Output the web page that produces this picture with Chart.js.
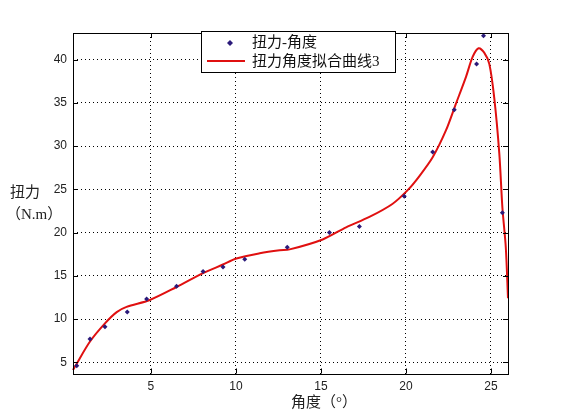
<!DOCTYPE html>
<html>
<head>
<meta charset="utf-8">
<script src="https://cdn.jsdelivr.net/npm/chart.js@4"></script>
<style>
  html, body { margin: 0; padding: 0; background: #fff; }
</style>
</head>
<body>
<canvas id="c" width="561" height="420"></canvas>
<script>
// measured points (angle in degrees, torque in N.m)
const angles  = [0.64, 1.42, 2.30, 3.61, 4.75, 6.51, 8.07, 9.24, 10.52, 13.02, 15.5, 17.26, 19.9, 21.57, 22.84, 24.15, 24.56, 25.67];
const torques = [4.6, 7.7, 9.1, 10.8, 12.3, 13.8, 15.5, 16.0, 16.9, 18.3, 20.0, 20.7, 24.2, 29.3, 34.2, 39.5, 42.75, 22.3];

// fitted curve
const fitX = [0.42, 0.54, 1.42, 2.3, 2.99, 3.57, 4.94, 6.51, 8.07, 9.24, 10.03, 11.4, 12.57, 13.16, 15.1, 16.48, 17.85, 19.2, 20.1, 20.78, 21.57, 22.35, 22.94, 23.53, 23.92, 24.27, 24.6, 24.9, 25.19, 25.49, 25.67, 25.87, 26.0];
const fitY = [4.1, 4.5, 7.4, 9.5, 10.8, 11.4, 12.2, 13.7, 15.3, 16.3, 17.0, 17.6, 17.95, 18.05, 19.2, 20.6, 21.8, 23.3, 24.9, 26.5, 28.7, 31.8, 34.9, 38.0, 40.3, 41.3, 40.8, 39.5, 35.6, 29.1, 22.9, 18.3, 12.4];

const xTicks = [5, 10, 15, 20, 25];
const yTicks = [5, 10, 15, 20, 25, 30, 35, 40];

const seriesNames = ["扭力-角度", "扭力角度拟合曲线3"];
const xTitle = "角度（°）";
const yTitle = ["扭力", "（N.m）"];

const pointColor = "#2b1a7a";
const lineColor = "#e01010";
const cjk = "'Liberation Serif', 'Noto Sans CJK SC', serif";

const frame = {
  id: "frame",
  afterDraw(chart) {
    const ctx = chart.ctx;
    const a = chart.chartArea;
    const xs = chart.scales.x, ys = chart.scales.y;
    ctx.save();
    ctx.strokeStyle = "#000";
    ctx.lineWidth = 1;
    ctx.strokeRect(Math.round(a.left) + 0.5, Math.round(a.top) + 0.5, Math.round(a.right - a.left), Math.round(a.bottom - a.top));
    // inward tick marks on all four sides
    ctx.beginPath();
    xTicks.forEach(v => {
      const px = Math.round(xs.getPixelForValue(v)) + 0.5;
      ctx.moveTo(px, a.bottom); ctx.lineTo(px, a.bottom - 5);
      ctx.moveTo(px, a.top); ctx.lineTo(px, a.top + 5);
    });
    yTicks.forEach(v => {
      const py = Math.round(ys.getPixelForValue(v)) + 0.5;
      ctx.moveTo(a.left, py); ctx.lineTo(a.left + 5, py);
      ctx.moveTo(a.right, py); ctx.lineTo(a.right - 5, py);
    });
    ctx.stroke();

    // axis titles
    ctx.fillStyle = "#222";
    ctx.font = "15px " + cjk;
    ctx.textBaseline = "middle";
    ctx.textAlign = "left";
    ctx.fillText(xTitle, 291, 403);
    ctx.fillText(yTitle[0], 10, 193);
    ctx.fillText(yTitle[1], 6, 215);

    // legend box
    const lx = 201, ly = 31, lw = 194, lh = 41;
    ctx.fillStyle = "#fff";
    ctx.fillRect(lx, ly, lw, lh);
    ctx.strokeStyle = "#000";
    ctx.strokeRect(lx + 0.5, ly + 0.5, lw, lh);
    ctx.fillStyle = pointColor;
    ctx.beginPath();
    ctx.moveTo(230, 40); ctx.lineTo(233, 43); ctx.lineTo(230, 46); ctx.lineTo(227, 43);
    ctx.closePath(); ctx.fill();
    ctx.strokeStyle = lineColor;
    ctx.lineWidth = 2;
    ctx.beginPath(); ctx.moveTo(207, 61); ctx.lineTo(245, 61); ctx.stroke();
    ctx.fillStyle = "#111";
    ctx.font = "15px " + cjk;
    ctx.fillText(seriesNames[0], 252, 43);
    ctx.fillText(seriesNames[1], 252, 62);
    ctx.restore();
  }
};

const gridStyle = { color: "#000", lineWidth: 1, drawTicks: false };
const tickFont = { family: "'Liberation Sans', Arial", size: 12 };

new Chart(document.getElementById("c"), {
  type: "scatter",
  data: {
    datasets: [
      {
        label: seriesNames[1],
        type: "line",
        data: fitX.map((x, i) => ({ x, y: fitY[i] })),
        borderColor: lineColor,
        borderWidth: 2,
        pointRadius: 0,
        tension: 0.3,
        fill: false,
        order: 2
      },
      {
        label: seriesNames[0],
        data: angles.map((x, i) => ({ x, y: torques[i] })),
        pointStyle: "rectRot",
        pointRadius: 2.5,
        backgroundColor: pointColor,
        borderColor: pointColor,
        borderWidth: 0,
        order: 1
      }
    ]
  },
  options: {
    responsive: false,
    animation: false,
    clip: false,
    layout: { padding: { left: 0, right: 53, top: 33, bottom: 0 } },
    plugins: { legend: { display: false }, tooltip: { enabled: false } },
    scales: {
      x: {
        type: "linear",
        min: 0.42,
        max: 26,
        afterBuildTicks: s => { s.ticks = xTicks.map(v => ({ value: v })); },
        afterFit: s => { s.height = 46.5; },
        grid: gridStyle,
        border: { display: false, dash: [1, 3] },
        ticks: { color: "#222", padding: 6, font: tickFont }
      },
      y: {
        type: "linear",
        min: 3.7,
        max: 43.07,
        afterBuildTicks: s => { s.ticks = yTicks.map(v => ({ value: v })); },
        afterFit: s => { s.width = 73; },
        grid: gridStyle,
        border: { display: false, dash: [1, 3] },
        ticks: { color: "#222", padding: 6, font: tickFont }
      }
    }
  },
  plugins: [frame]
});
</script>
</body>
</html>
